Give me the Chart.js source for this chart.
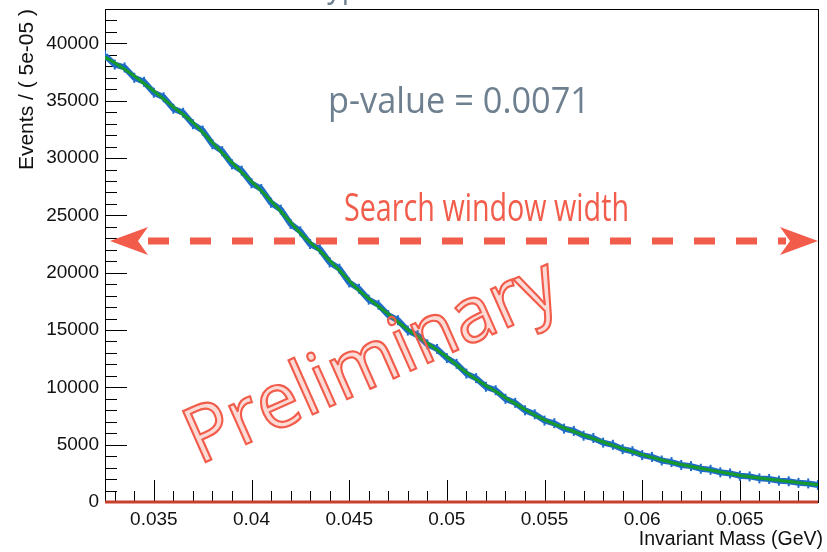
<!DOCTYPE html>
<html>
<head>
<meta charset="utf-8">
<script src="https://cdn.jsdelivr.net/npm/chart.js@4/dist/chart.umd.min.js"></script>
<style>
  html, body { margin: 0; background: #fff; }
</style>
</head>
<body>
<canvas id="massChart" width="827" height="552"></canvas>
<script>
/* Binned invariant mass (GeV) */
const mass = [
  0.0325, 0.0330, 0.0335, 0.0340, 0.0345, 0.0350, 0.0355, 0.0360, 0.0365, 0.0370,
  0.0375, 0.0380, 0.0385, 0.0390, 0.0395, 0.0400, 0.0405, 0.0410, 0.0415, 0.0420,
  0.0425, 0.0430, 0.0435, 0.0440, 0.0445, 0.0450, 0.0455, 0.0460, 0.0465, 0.0470,
  0.0475, 0.0480, 0.0485, 0.0490, 0.0495, 0.0500, 0.0505, 0.0510, 0.0515, 0.0520,
  0.0525, 0.0530, 0.0535, 0.0540, 0.0545, 0.0550, 0.0555, 0.0560, 0.0565, 0.0570,
  0.0575, 0.0580, 0.0585, 0.0590, 0.0595, 0.0600, 0.0605, 0.0610, 0.0615, 0.0620,
  0.0625, 0.0630, 0.0635, 0.0640, 0.0645, 0.0650, 0.0655, 0.0660, 0.0665, 0.0670,
  0.0675, 0.0680, 0.0685, 0.0690
];
/* Events per bin (blue data points) */
const dataCounts = [
  38950, 38150, 37900, 37000, 36650, 35700, 35300, 34300, 33950, 32950,
  32400, 31200, 30600, 29450, 28900, 27800, 27300, 26100, 25500, 24250,
  23600, 22500, 22050, 20900, 20350, 19150, 18600, 17650, 17200, 16300,
  15850, 14950, 14550, 13750, 13350, 12550, 12050, 11200, 10800, 10050,
  9750, 9000, 8650, 8000, 7650, 7100, 6870, 6400, 6200, 5780,
  5580, 5180, 4990, 4610, 4430, 4090, 3930, 3620, 3480, 3230,
  3130, 2900, 2810, 2590, 2490, 2290, 2230, 2060, 2010, 1860,
  1810, 1670, 1620, 1480
];
/* Background fit (green curve) */
const fitCounts = [
  38800, 38300, 37750, 37150, 36500, 35850, 35150, 34450, 33800, 33100,
  32250, 31350, 30450, 29600, 28750, 27950, 27150, 26250, 25350, 24400,
  23450, 22650, 21900, 21050, 20200, 19300, 18450, 17750, 17050, 16400,
  15700, 15050, 14450, 13850, 13250, 12650, 11950, 11300, 10700, 10150,
  9650, 9100, 8580, 8070, 7580, 7170, 6800, 6470, 6150, 5840,
  5530, 5230, 4940, 4660, 4390, 4130, 3890, 3660, 3450, 3270,
  3100, 2940, 2780, 2620, 2460, 2320, 2200, 2090, 1990, 1890,
  1790, 1690, 1600, 1500
];
/* Signal component (flat at zero) */
const signalMass = [0.0325, 0.069];
const signalCounts = [0, 0];

const xTicks = [0.035, 0.04, 0.045, 0.05, 0.055, 0.06, 0.065];
const yTicks = [0, 5000, 10000, 15000, 20000, 25000, 30000, 35000, 40000];
const arrowLevel = 22750;

const pts = (xs, ys) => xs.map((x, i) => ({ x: x, y: ys[i] }));

/* ROOT style frame, inward ticks and annotations */
const rootFrame = {
  id: 'rootFrame',
  beforeDraw(chart) {
    const ctx = chart.ctx;
    ctx.save();
    ctx.fillStyle = '#fff';
    ctx.fillRect(0, 0, chart.width, chart.height);
    ctx.restore();
  },
  beforeDatasetsDraw(chart) {
    const ctx = chart.ctx;
    const a = chart.chartArea;
    const xs = chart.scales.x, ys = chart.scales.y;
    ctx.save();
    ctx.strokeStyle = '#000';
    ctx.lineWidth = 1;
    ctx.beginPath();
    // y ticks
    for (let v = 0; v <= ys.max; v += 1000) {
      const py = Math.round(ys.getPixelForValue(v)) + 0.5;
      const len = v % 5000 === 0 ? 22 : 12;
      ctx.moveTo(a.left, py); ctx.lineTo(a.left + len, py);
    }
    // x ticks
    for (let k = 33; k <= 69; k++) {
      const v = k / 1000;
      if (v < xs.min || v > xs.max) continue;
      const px = Math.round(xs.getPixelForValue(v)) + 0.5;
      const len = k % 5 === 0 ? 22 : 11;
      ctx.moveTo(px, a.bottom); ctx.lineTo(px, a.bottom - len);
    }
    ctx.stroke();
    ctx.strokeRect(Math.round(a.left) + 0.5, Math.round(a.top) + 0.5,
      Math.round(a.right - a.left), Math.round(a.bottom - a.top));

    // x axis title, right aligned under the frame
    ctx.font = '19.5px "Liberation Sans", Arial, sans-serif';
    ctx.fillStyle = '#111';
    ctx.textAlign = 'right';
    ctx.textBaseline = 'alphabetic';
    ctx.fillText('Invariant Mass (GeV)', a.right + 5, 545);
    ctx.restore();
  },
  afterDraw(chart) {
    const ctx = chart.ctx;
    const a = chart.chartArea;
    const ys = chart.scales.y;
    ctx.save();

    const fitText = (text, x, y, size, width, color) => {
      ctx.font = size + 'px "Open Sans"';
      const w = ctx.measureText(text).width;
      ctx.save();
      ctx.translate(x, y);
      ctx.scale(width / w, 1);
      ctx.fillStyle = color;
      ctx.textBaseline = 'alphabetic';
      ctx.fillText(text, 0, 0);
      ctx.restore();
    };
    fitText('Hypothesis', 306, -3, 35, 150, '#6e8090');
    fitText('p-value = 0.0071', 328, 113, 37, 262, '#6e8090');
    fitText('Search window width', 344, 221, 38, 285, '#f25c4b');

    // dashed double arrow
    const ay = Math.round(ys.getPixelForValue(arrowLevel));
    const x0 = a.left + 5, x1 = a.right;
    ctx.strokeStyle = '#f25c4b';
    ctx.fillStyle = '#f25c4b';
    ctx.lineWidth = 7;
    ctx.setLineDash([21, 21]);
    ctx.beginPath();
    ctx.moveTo(x0 + 38, ay); ctx.lineTo(x1 - 32, ay);
    ctx.stroke();
    ctx.setLineDash([]);
    ctx.beginPath();
    ctx.moveTo(x1, ay); ctx.lineTo(x1 - 38, ay - 14); ctx.lineTo(x1 - 28, ay); ctx.lineTo(x1 - 38, ay + 14);
    ctx.closePath();
    ctx.moveTo(x0, ay); ctx.lineTo(x0 + 38, ay - 14); ctx.lineTo(x0 + 28, ay); ctx.lineTo(x0 + 38, ay + 14);
    ctx.closePath();
    ctx.fill();

    // watermark
    ctx.save();
    ctx.translate(199, 465);
    ctx.rotate(-24 * Math.PI / 180);
    ctx.font = '78px "Open Sans"';
    const pw = ctx.measureText('Preliminary').width;
    ctx.scale(400 / pw, 1);
    ctx.fillStyle = 'rgba(242, 92, 75, 0.22)';
    ctx.fillText('Preliminary', 0, 0);
    ctx.lineWidth = 2.2;
    ctx.strokeStyle = '#f25c4b';
    ctx.strokeText('Preliminary', 0, 0);
    ctx.restore();
    ctx.restore();
  }
};

const tickFont = { family: '"Liberation Sans", Arial, sans-serif', size: 19 };
const titleFont = { family: '"Liberation Sans", Arial, sans-serif', size: 21 };

new Chart(document.getElementById('massChart'), {
  type: 'scatter',
  data: {
    datasets: [
      {
        label: 'fit',
        data: pts(mass, fitCounts),
        showLine: true,
        borderColor: '#179a2c',
        borderWidth: 3,
        pointRadius: 0,
        cubicInterpolationMode: 'monotone',
        order: 0
      },
      {
        label: 'data',
        data: pts(mass, dataCounts),
        showLine: true,
        borderColor: '#1f6cc8',
        backgroundColor: '#1f6cc8',
        borderWidth: 6,
        pointStyle: 'line',
        pointRotation: 90,
        pointRadius: 5,
        pointBorderWidth: 2,
        order: 1
      },
      {
        label: 'signal',
        data: pts(signalMass, signalCounts),
        showLine: true,
        borderColor: '#c8402c',
        borderWidth: 3,
        pointRadius: 0,
        clip: 4,
        order: 2
      }
    ]
  },
  options: {
    responsive: false,
    animation: false,
    devicePixelRatio: 1,
    layout: { padding: { top: 9, right: 9, left: 0, bottom: 0 } },
    plugins: { legend: { display: false }, tooltip: { enabled: false } },
    scales: {
      x: {
        type: 'linear',
        min: 0.0325,
        max: 0.069,
        afterBuildTicks: s => { s.ticks = xTicks.map(v => ({ value: v })); },
        afterFit: s => { s.height = 50; s.paddingLeft = 0; s.paddingRight = 0; },
        grid: { display: false, drawTicks: false },
        border: { display: false },
        ticks: { font: tickFont, color: '#111', padding: 6, maxRotation: 0, callback: v => String(v) },
        title: { display: false }
      },
      y: {
        min: 0,
        max: 43000,
        afterBuildTicks: s => { s.ticks = yTicks.map(v => ({ value: v })); },
        afterFit: s => { s.width = 105; s.paddingTop = 0; s.paddingBottom = 0; },
        grid: { display: false, drawTicks: false },
        border: { display: false },
        ticks: { font: tickFont, color: '#111', padding: 6, callback: v => String(v) },
        title: { display: true, text: 'Events / ( 5e-05 )', align: 'end', font: titleFont, color: '#111', padding: { top: 15, bottom: 0 } }
      }
    }
  },
  plugins: [rootFrame]
});
</script>
</body>
</html>
